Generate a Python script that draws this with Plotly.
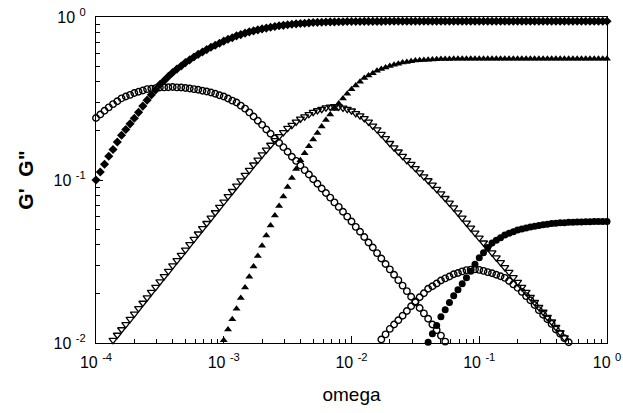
import plotly.graph_objects as go

# frequency grid (30 points per decade)
omega = [
    1.000e-4, 1.080e-4, 1.166e-4, 1.259e-4, 1.359e-4, 1.468e-4, 1.585e-4, 1.711e-4, 1.848e-4, 1.995e-4,
    2.154e-4, 2.326e-4, 2.512e-4, 2.712e-4, 2.929e-4, 3.162e-4, 3.415e-4, 3.687e-4, 3.981e-4, 4.299e-4,
    4.642e-4, 5.012e-4, 5.412e-4, 5.843e-4, 6.310e-4, 6.813e-4, 7.356e-4, 7.943e-4, 8.577e-4, 9.261e-4,
    1.000e-3, 1.080e-3, 1.166e-3, 1.259e-3, 1.359e-3, 1.468e-3, 1.585e-3, 1.711e-3, 1.848e-3, 1.995e-3,
    2.154e-3, 2.326e-3, 2.512e-3, 2.712e-3, 2.929e-3, 3.162e-3, 3.415e-3, 3.687e-3, 3.981e-3, 4.299e-3,
    4.642e-3, 5.012e-3, 5.412e-3, 5.843e-3, 6.310e-3, 6.813e-3, 7.356e-3, 7.943e-3, 8.577e-3, 9.261e-3,
    1.000e-2, 1.080e-2, 1.166e-2, 1.259e-2, 1.359e-2, 1.468e-2, 1.585e-2, 1.711e-2, 1.848e-2, 1.995e-2,
    2.154e-2, 2.326e-2, 2.512e-2, 2.712e-2, 2.929e-2, 3.162e-2, 3.415e-2, 3.687e-2, 3.981e-2, 4.299e-2,
    4.642e-2, 5.012e-2, 5.412e-2, 5.843e-2, 6.310e-2, 6.813e-2, 7.356e-2, 7.943e-2, 8.577e-2, 9.261e-2,
    1.000e-1, 1.080e-1, 1.166e-1, 1.259e-1, 1.359e-1, 1.468e-1, 1.585e-1, 1.711e-1, 1.848e-1, 1.995e-1,
    2.154e-1, 2.326e-1, 2.512e-1, 2.712e-1, 2.929e-1, 3.162e-1, 3.415e-1, 3.687e-1, 3.981e-1, 4.299e-1,
    4.642e-1, 5.012e-1, 5.412e-1, 5.843e-1, 6.310e-1, 6.813e-1, 7.356e-1, 7.943e-1, 8.577e-1, 9.261e-1,
    1.000e0,
]

# mode 1: G' (filled diamonds), starts at omega[0]
g1_storage = [
    0.100, 0.112, 0.125, 0.140, 0.154, 0.171, 0.188, 0.204, 0.221, 0.239,
    0.260, 0.284, 0.309, 0.333, 0.357, 0.385, 0.407, 0.432, 0.457, 0.479,
    0.501, 0.525, 0.546, 0.568, 0.590, 0.610, 0.631, 0.652, 0.671, 0.690,
    0.711, 0.730, 0.746, 0.766, 0.780, 0.796, 0.811, 0.822, 0.834, 0.845,
    0.855, 0.865, 0.875, 0.883, 0.889, 0.897, 0.902, 0.908, 0.912, 0.916,
    0.920, 0.925, 0.927, 0.929, 0.931, 0.933, 0.933, 0.935, 0.935, 0.938,
    0.938, 0.939, 0.939, 0.940, 0.940, 0.940, 0.940, 0.940, 0.941, 0.941,
    0.941, 0.941, 0.941, 0.942, 0.942, 0.942, 0.942, 0.942, 0.942, 0.942,
    0.942, 0.942, 0.942, 0.942, 0.942, 0.942, 0.942, 0.942, 0.942, 0.942,
    0.942, 0.942, 0.942, 0.942, 0.942, 0.942, 0.942, 0.942, 0.942, 0.942,
    0.942, 0.942, 0.942, 0.942, 0.942, 0.942, 0.942, 0.942, 0.942, 0.942,
    0.942, 0.942, 0.942, 0.942, 0.942, 0.942, 0.942, 0.942, 0.942, 0.942,
    0.942,
]
g1_start = 0

# mode 1: G'' (open circles), starts at omega[0]
g1_loss = [
    0.240, 0.252, 0.266, 0.279, 0.292, 0.304, 0.317, 0.325, 0.333, 0.342,
    0.348, 0.354, 0.361, 0.363, 0.366, 0.369, 0.370, 0.371, 0.372, 0.370,
    0.369, 0.367, 0.364, 0.361, 0.358, 0.353, 0.349, 0.344, 0.338, 0.331,
    0.325, 0.316, 0.307, 0.299, 0.286, 0.274, 0.260, 0.245, 0.231, 0.218,
    0.204, 0.192, 0.180, 0.169, 0.159, 0.149, 0.139, 0.131, 0.123, 0.115,
    0.108, 0.101, 0.0948, 0.0887, 0.0832, 0.0780, 0.0729, 0.0684, 0.0638, 0.0596,
    0.0556, 0.0516, 0.0481, 0.0447, 0.0414, 0.0385, 0.0356, 0.0330, 0.0305, 0.0283,
    0.0262, 0.0243, 0.0225, 0.0208, 0.0192, 0.0178, 0.0164, 0.0152, 0.0141, 0.0130,
    0.0120, 0.0111, 0.0102,
]
g1_loss_start = 0

# mode 2: G' (filled triangles), starts at omega[30]
g2_storage = [
    0.0104, 0.0121, 0.0140, 0.0162, 0.0189, 0.0219, 0.0255, 0.0295, 0.0342, 0.0395,
    0.0456, 0.0525, 0.0605, 0.0692, 0.0793, 0.0906, 0.103, 0.117, 0.132, 0.146,
    0.161, 0.177, 0.194, 0.213, 0.233, 0.252, 0.273, 0.295, 0.316, 0.338,
    0.361, 0.380, 0.401, 0.422, 0.437, 0.452, 0.468, 0.479, 0.490, 0.501,
    0.509, 0.516, 0.525, 0.530, 0.535, 0.540, 0.542, 0.545, 0.547, 0.548,
    0.551, 0.552, 0.553, 0.553, 0.555, 0.555, 0.555, 0.555, 0.555, 0.555,
    0.555, 0.555, 0.555, 0.555, 0.555, 0.555, 0.555, 0.555, 0.555, 0.555,
    0.555, 0.555, 0.555, 0.555, 0.555, 0.555, 0.555, 0.555, 0.555, 0.555,
    0.555, 0.555, 0.555, 0.555, 0.555, 0.555, 0.555, 0.555, 0.555, 0.555,
    0.555,
]
g2_start = 30

# mode 2: G'' (open triangles), starts at omega[4]
g2_loss = [
    0.0104, 0.0112, 0.0121, 0.0130, 0.0140, 0.0151,
    0.0163, 0.0176, 0.0190, 0.0205, 0.0220, 0.0238, 0.0256, 0.0276, 0.0298, 0.0321,
    0.0346, 0.0373, 0.0403, 0.0434, 0.0468, 0.0505, 0.0543, 0.0586, 0.0632, 0.0681,
    0.0735, 0.0793, 0.0853, 0.0920, 0.0991, 0.107, 0.115, 0.124, 0.133, 0.143,
    0.153, 0.164, 0.175, 0.185, 0.196, 0.208, 0.217, 0.227, 0.237, 0.245,
    0.253, 0.261, 0.267, 0.272, 0.278, 0.281, 0.283, 0.281, 0.277, 0.272,
    0.266, 0.256, 0.248, 0.239, 0.227, 0.215, 0.204, 0.191, 0.180, 0.168,
    0.158, 0.149, 0.140, 0.132, 0.125, 0.118, 0.111, 0.105, 0.0993, 0.0933,
    0.0879, 0.0826, 0.0773, 0.0723, 0.0676, 0.0630, 0.0586, 0.0546, 0.0508, 0.0474,
    0.0442, 0.0412, 0.0384, 0.0358, 0.0334, 0.0312, 0.0291, 0.0272, 0.0253, 0.0236,
    0.0220, 0.0205, 0.0191, 0.0178, 0.0166, 0.0155, 0.0144, 0.0135, 0.0125, 0.0116,
    0.0108,
]
g2_loss_start = 4

# mode 3: G' (filled circles), starts at omega[78]
g3_storage = [
    0.0101, 0.0114,
    0.0128, 0.0145, 0.0160, 0.0177, 0.0195, 0.0212, 0.0231, 0.0251, 0.0276, 0.0304,
    0.0334, 0.0358, 0.0385, 0.0410, 0.0427, 0.0443, 0.0459, 0.0471, 0.0482, 0.0494,
    0.0501, 0.0508, 0.0515, 0.0521, 0.0526, 0.0532, 0.0536, 0.0540, 0.0543, 0.0546,
    0.0547, 0.0550, 0.0551, 0.0552, 0.0553, 0.0555, 0.0555, 0.0556, 0.0556, 0.0556,
    0.0556,
]
g3_start = 78

# mode 3: G'' (open circles), starts at omega[67]
g3_loss = [
    0.0105, 0.0113, 0.0122,
    0.0130, 0.0138, 0.0147, 0.0157, 0.0168, 0.0180, 0.0191, 0.0202, 0.0215, 0.0223,
    0.0232, 0.0242, 0.0249, 0.0256, 0.0264, 0.0269, 0.0275, 0.0280, 0.0282, 0.0283,
    0.0281, 0.0277, 0.0272, 0.0268, 0.0262, 0.0257, 0.0251, 0.0240, 0.0229, 0.0218,
    0.0206, 0.0194, 0.0183, 0.0171, 0.0159, 0.0149, 0.0140, 0.0131, 0.0121, 0.0114,
    0.0107, 0.0101,
]
g3_loss_start = 67

x_tick_vals = [1e-4, 1e-3, 1e-2, 1e-1, 1]
x_tick_text = ["10 <sup>-4</sup>", "10 <sup>-3</sup>", "10 <sup>-2</sup>", "10 <sup>-1</sup>", "10 <sup>0</sup>"]
y_tick_vals = [1e-2, 1e-1, 1]
y_tick_text = ["10 <sup>-2</sup>", "10 <sup>-1</sup>", "10 <sup>0</sup>"]

minor_x = [m * 10.0 ** e for e in (-4, -3, -2, -1) for m in range(2, 10)]
minor_y = [m * 10.0 ** e for e in (-2, -1) for m in range(2, 10)]

series = [
    (g1_loss, g1_loss_start, "circle-open", 6.5, 1.4),
    (g2_loss, g2_loss_start, "triangle-down-open", 7, 1.3),
    (g3_loss, g3_loss_start, "circle-open", 6.5, 1.4),
    (g1_storage, g1_start, "diamond", 7, 0),
    (g2_storage, g2_start, "triangle-up", 7, 0),
    (g3_storage, g3_start, "circle", 7, 0),
]

fig = go.Figure()
for vals, start, sym, size, lw in series:
    fig.add_trace(go.Scatter(
        x=omega[start:start + len(vals)], y=vals, mode="markers",
        marker=dict(symbol=sym, size=size, color="black",
                    line=dict(color="black", width=lw)),
        cliponaxis=False, showlegend=False,
    ))

axis_common = dict(
    type="log", showline=True, linecolor="black", linewidth=1, mirror=True,
    showgrid=False, zeroline=False, ticks="inside", ticklen=7, tickwidth=1,
    tickcolor="black", tickfont=dict(size=16, color="black"), automargin=False,
)

fig.update_layout(
    width=623, height=413,
    margin=dict(l=96, r=16, t=17, b=70),
    paper_bgcolor="white", plot_bgcolor="white",
    font=dict(family="Liberation Sans, Arial, sans-serif", color="black"),
    xaxis=dict(
        axis_common, range=[-4, 0], tickmode="array",
        tickvals=x_tick_vals, ticktext=x_tick_text, ticklabelstandoff=5,
        minor=dict(tickmode="array", tickvals=minor_x, ticks="inside",
                   ticklen=4, tickcolor="black", showgrid=False),
        title=dict(text="omega", font=dict(size=19), standoff=17),
    ),
    yaxis=dict(
        axis_common, range=[-2, 0], tickmode="array",
        tickvals=y_tick_vals, ticktext=y_tick_text, ticklabelstandoff=6,
        minor=dict(tickmode="array", tickvals=minor_y, ticks="inside",
                   ticklen=4, tickcolor="black", showgrid=False),
        title=dict(text="G'  G\"", font=dict(size=21, weight="bold"), standoff=14),
    ),
)

fig.write_html("out.html")
